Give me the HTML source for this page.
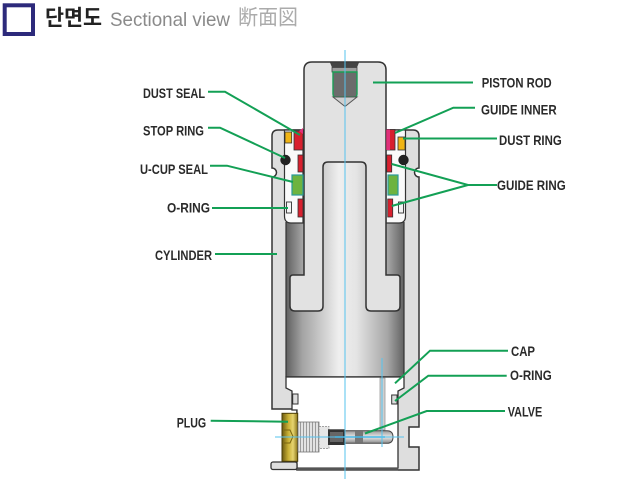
<!DOCTYPE html>
<html><head><meta charset="utf-8">
<style>
html,body{margin:0;padding:0;background:#fff;}
svg{display:block;}
.lb{font-family:"Liberation Sans",sans-serif;font-weight:bold;font-size:14px;fill:#2a2a2a;}
.g{stroke:#13a055;stroke-width:2;fill:none;}
</style></head><body>
<svg width="631" height="479" viewBox="0 0 631 479" xmlns="http://www.w3.org/2000/svg">
<defs>
<linearGradient id="pg" x1="286" y1="0" x2="404" y2="0" gradientUnits="userSpaceOnUse">
<stop offset="0" stop-color="#606060"/>
<stop offset="0.14" stop-color="#a4a4a4"/>
<stop offset="0.45" stop-color="#efefef"/>
<stop offset="0.6" stop-color="#e4e4e4"/>
<stop offset="0.86" stop-color="#a6a6a6"/>
<stop offset="1" stop-color="#626262"/>
</linearGradient>
<linearGradient id="gold" x1="0" y1="0" x2="1" y2="0">
<stop offset="0" stop-color="#6b5a10"/>
<stop offset="0.4" stop-color="#c9b035"/>
<stop offset="0.7" stop-color="#e6d470"/>
<stop offset="1" stop-color="#8a7418"/>
</linearGradient>
<linearGradient id="vt" x1="0" y1="0" x2="0" y2="1">
<stop offset="0" stop-color="#9a9a9a"/>
<stop offset="0.5" stop-color="#e8e8e8"/>
<stop offset="1" stop-color="#8a8a8a"/>
</linearGradient>
<pattern id="thr" width="3" height="4" patternUnits="userSpaceOnUse">
<rect width="3" height="4" fill="#e2e2e2"/>
<rect width="1" height="4" fill="#9a9a9a"/>
</pattern>
</defs>

<!-- Title -->
<rect x="4.7" y="5.3" width="28.3" height="28.7" fill="#fff" stroke="#2d2a7b" stroke-width="4"/>
<text x="45" y="25.5" font-family="'Liberation Sans','Noto Sans CJK KR',sans-serif" font-weight="bold" font-size="22" fill="#222" textLength="57" lengthAdjust="spacingAndGlyphs">단면도</text>
<text x="110" y="26" font-family="'Liberation Sans',sans-serif" font-size="19.5" fill="#8a8a8a" textLength="120" lengthAdjust="spacingAndGlyphs">Sectional view</text>
<text x="238" y="24.5" font-family="'Liberation Sans','Noto Sans CJK JP',sans-serif" font-size="21" fill="#ababab" textLength="60" lengthAdjust="spacingAndGlyphs">断面図</text>

<!-- Cylinder body -->
<path d="M272,136 Q272,130 278,130 L413,130 Q419,130 419,136 L419,168 A4.5,4.5 0 0 0 419,177 L419,427 L409,427 L409,447 L419,447 L419,470 L297,470 L297,409 L272,409 L272,177 A4.5,4.5 0 0 0 272,168 Z" fill="#dedede" stroke="#333" stroke-width="1.5"/>

<!-- piston gradient block -->
<rect x="286" y="160" width="118" height="217" fill="url(#pg)"/>
<line x1="286" y1="222" x2="286" y2="377" stroke="#333" stroke-width="1.2"/>
<line x1="404" y1="222" x2="404" y2="377" stroke="#333" stroke-width="1.2"/>

<!-- seal cavities -->
<path d="M284.5,130 L303,130 L303,223 L291,223 Q284.5,223 284.5,216 Z" fill="#fafafa" stroke="#333" stroke-width="1.2"/>
<path d="M405.5,130 L386,130 L386,223 L399,223 Q405.5,223 405.5,216 Z" fill="#fafafa" stroke="#333" stroke-width="1.2"/>

<!-- Rod -->
<path d="M304,70 Q304,62 312,62 L378,62 Q386,62 386,70 L386,275 L397,275 Q400,275 400,278 L400,306 Q400,311 395,311 L371,311 Q366,311 366,306 L366,167 Q366,162 361,162 L328,162 Q323,162 323,167 L323,306 Q323,311 318,311 L295,311 Q290,311 290,306 L290,278 Q290,275 293,275 L304,275 Z" fill="#e2e2e2" stroke="#333" stroke-width="1.5"/>
<line x1="286" y1="377" x2="404" y2="377" stroke="#333" stroke-width="1.5"/>

<!-- rod top socket -->
<polygon points="330,62.5 359,62.5 357,67.5 332,67.5" fill="#444"/>
<rect x="332" y="67.5" width="25" height="4.5" fill="#9c9c9c" stroke="#444" stroke-width="0.8"/>
<path d="M333,72 L333,94 Q333,97 336,97 L354,97 Q357,97 357,94 L357,72 Z" fill="#6b6b6b" stroke="#1a9e55" stroke-width="1.4"/>
<polygon points="333,97 345,106.5 357,97" fill="#cfcfcf" stroke="#555" stroke-width="1"/>

<!-- cavity under piston -->
<polygon points="286,377 404,377 404,388 398,391 398,468 297,468 297,410 292,410 292,391 286,388" fill="#fff" stroke="#333" stroke-width="1.3"/>
<rect x="292.7" y="394" width="5.3" height="10" fill="#dcdcdc" stroke="#333" stroke-width="1"/>
<rect x="391.7" y="395" width="5.3" height="9" fill="#dcdcdc" stroke="#333" stroke-width="1"/>
<rect x="297" y="467.5" width="101" height="3" fill="#555"/>

<!-- bottom-left piece -->
<rect x="271" y="462" width="26" height="7.5" rx="2" fill="#dedede" stroke="#333" stroke-width="1.3"/>

<!-- vertical tube -->
<rect x="380" y="378" width="5" height="52" fill="#cfcfcf" stroke="#999" stroke-width="0.8"/>

<!-- plug -->
<rect x="282" y="413.3" width="15.7" height="48" fill="url(#gold)" stroke="#4a3d08" stroke-width="1"/>
<path d="M284,430 L290,430 L293,436.5 L290,443 L284,443" fill="none" stroke="#7a6510" stroke-width="1"/>
<rect x="298" y="422" width="21" height="30" fill="url(#thr)" stroke="#777" stroke-width="0.8"/>
<rect x="319" y="426.5" width="10" height="22" fill="#e6e6e6" stroke="#888" stroke-width="0.8" stroke-dasharray="2,1"/>

<!-- valve -->
<rect x="328" y="429.3" width="17" height="15.7" fill="#333"/>
<rect x="330" y="432" width="13" height="10" fill="#666"/>
<path d="M345,430.7 L387,430.7 Q393,430.7 393,437 Q393,443.3 387,443.3 L345,443.3 Z" fill="url(#vt)" stroke="#444" stroke-width="1"/>
<rect x="355" y="431.5" width="8" height="11" fill="#777"/>
<line x1="335" y1="437" x2="385" y2="437" stroke="#2aa8e0" stroke-width="1.5"/>

<!-- blue center lines -->
<line x1="345" y1="50" x2="345" y2="479" stroke="#55c3ee" stroke-width="1"/>
<line x1="275" y1="437" x2="404" y2="437" stroke="#55c3ee" stroke-width="1"/>
<line x1="382" y1="358" x2="382" y2="447" stroke="#55c3ee" stroke-width="1"/>

<!-- seals left -->
<rect x="285" y="132" width="6.7" height="11" fill="#f0b414" stroke="#333" stroke-width="0.8"/>
<rect x="294" y="131" width="9" height="19" fill="#d8202e" stroke="#333" stroke-width="0.8"/>
<polygon points="299,131 303,128 303,134" fill="#e0307a"/>
<circle cx="285.5" cy="160" r="5.2" fill="#222"/>
<rect x="298" y="155" width="5" height="17" fill="#d8202e" stroke="#333" stroke-width="0.8"/>
<rect x="292" y="175" width="11" height="20" fill="#6db33f" stroke="#2a9a9a" stroke-width="1.2"/>
<rect x="298" y="199" width="5" height="18" fill="#d8202e" stroke="#333" stroke-width="0.8"/>
<rect x="286.5" y="202" width="5" height="11" fill="#f4f4f4" stroke="#333" stroke-width="0.9"/>

<!-- seals right -->
<rect x="386" y="129.5" width="9" height="20.5" fill="#d8202e" stroke="#333" stroke-width="0.8"/>
<rect x="386.3" y="129.5" width="3.7" height="20.5" fill="#e0307a"/>
<rect x="398" y="137" width="7" height="13" fill="#f0b414" stroke="#333" stroke-width="0.8"/>
<circle cx="403.5" cy="160" r="5.2" fill="#222"/>
<rect x="386.7" y="155" width="5" height="17" fill="#d8202e" stroke="#333" stroke-width="0.8"/>
<rect x="388" y="175" width="10" height="20" fill="#6db33f" stroke="#2a9a9a" stroke-width="1.2"/>
<rect x="387.7" y="199" width="5" height="18" fill="#d8202e" stroke="#333" stroke-width="0.8"/>
<rect x="398.5" y="202" width="5" height="11" fill="#f4f4f4" stroke="#333" stroke-width="0.9"/>

<!-- green leader lines -->
<polyline class="g" points="373,82.5 473,82.5"/>
<polyline class="g" points="475,107.7 453.3,107.7 395,133"/>
<polyline class="g" points="403,138.5 497,138.5"/>
<polyline class="g" points="497,185 468,185 391.7,164"/>
<polyline class="g" points="468,185 391.7,206"/>
<polyline class="g" points="208,91.7 225,91.7 300,135"/>
<polyline class="g" points="208,127.7 220,127.7 285,158"/>
<polyline class="g" points="210,165.7 227,165.7 293,182"/>
<polyline class="g" points="212,208 288,208"/>
<polyline class="g" points="215,254 277,254"/>
<polyline class="g" points="508,350.7 430,350.7 395,383.3"/>
<polyline class="g" points="506.7,375.7 428.3,375.7 395,401"/>
<polyline class="g" points="505,411 426.7,411 365,433.5"/>
<polyline class="g" points="210.7,420.7 288,421.7"/>

<!-- labels -->
<text class="lb" x="143" y="98" textLength="62" lengthAdjust="spacingAndGlyphs">DUST SEAL</text>
<text class="lb" x="143" y="135.5" textLength="61" lengthAdjust="spacingAndGlyphs">STOP RING</text>
<text class="lb" x="140" y="174" textLength="68" lengthAdjust="spacingAndGlyphs">U-CUP SEAL</text>
<text class="lb" x="167" y="212.3" textLength="43" lengthAdjust="spacingAndGlyphs">O-RING</text>
<text class="lb" x="155" y="260" textLength="57" lengthAdjust="spacingAndGlyphs">CYLINDER</text>
<text class="lb" x="176.7" y="427.3" textLength="29.5" lengthAdjust="spacingAndGlyphs">PLUG</text>
<text class="lb" x="481.7" y="87.7" textLength="70" lengthAdjust="spacingAndGlyphs">PISTON ROD</text>
<text class="lb" x="481" y="114.3" textLength="75.7" lengthAdjust="spacingAndGlyphs">GUIDE INNER</text>
<text class="lb" x="499" y="145" textLength="62.7" lengthAdjust="spacingAndGlyphs">DUST RING</text>
<text class="lb" x="497" y="190" textLength="68.7" lengthAdjust="spacingAndGlyphs">GUIDE RING</text>
<text class="lb" x="511" y="356" textLength="24" lengthAdjust="spacingAndGlyphs">CAP</text>
<text class="lb" x="510" y="380" textLength="41.7" lengthAdjust="spacingAndGlyphs">O-RING</text>
<text class="lb" x="507.7" y="416.7" textLength="34.6" lengthAdjust="spacingAndGlyphs">VALVE</text>
</svg>
</body></html>
